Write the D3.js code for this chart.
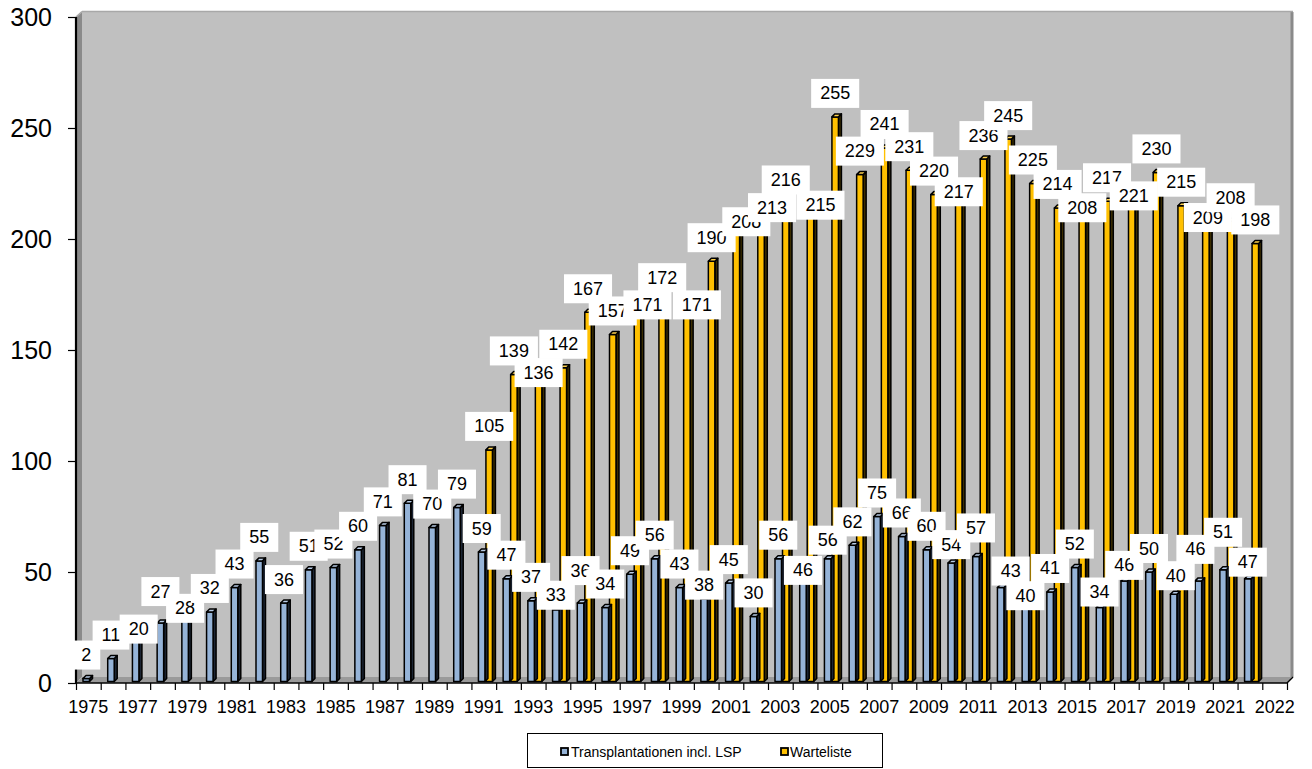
<!DOCTYPE html>
<html>
<head>
<meta charset="utf-8">
<script src="https://cdn.jsdelivr.net/npm/d3@7"></script>
<style>
  html, body { margin: 0; padding: 0; background: #ffffff; }
  svg { display: block; }
  text { font-family: "Liberation Sans", Arial, Helvetica, sans-serif; fill: #000; }
</style>
</head>
<body>
<svg id="chart" width="1312" height="769"></svg>
<script>
// ---------------- data ----------------
const years = [1975,1976,1977,1978,1979,1980,1981,1982,1983,1984,1985,1986,1987,1988,1989,1990,
               1991,1992,1993,1994,1995,1996,1997,1998,1999,2000,2001,2002,2003,2004,2005,2006,
               2007,2008,2009,2010,2011,2012,2013,2014,2015,2016,2017,2018,2019,2020,2021,2022];
const transplantationen = [2,11,20,27,28,32,43,55,36,51,52,60,71,81,70,79,
                           59,47,37,33,36,34,49,56,43,38,45,30,56,46,56,62,
                           75,66,60,54,57,43,40,41,52,34,46,50,40,46,51,47];
const wartelisteYears = [1991,1992,1993,1994,1995,1996,1997,1998,1999,2000,2001,2002,2003,2004,2005,2006,
                         2007,2008,2009,2010,2011,2012,2013,2014,2015,2016,2017,2018,2019,2020,2021,2022];
const warteliste = [105,139,136,142,167,157,171,172,171,190,208,213,216,215,255,229,
                    241,231,220,217,236,245,225,214,208,217,221,230,215,209,208,198];
const tickLabels = ["1975","1977","1979","1981","1983","1985","1987","1989","1991","1993","1995","1997",
                    "1999","2001","2003","2005","2007","2009","2011","2013","2015","2017","2019","2021","2022"];
const yTicks = [0,50,100,150,200,250,300];
const seriesNames = ["Transplantationen incl. LSP", "Warteliste"];

// -------- layout (label placement nudges in px, not data) --------
const nudgeBlue = {1977:[3,14],1978:[0,-8],1979:[0,11],1994:[0,9],1995:[0,-9],2000:[0,10],2004:[0,13],
                   2005:[0,5],2010:[0,5],2011:[0,-5],2012:[10,7],2013:[0,25],2016:[0,8],2017:[0,8],
                   2019:[2,5],2020:[-3,-8],2021:[0,-14],2022:[0,7]};
const nudgeYellow = {1993:[0,15],1997:[10,25],1999:[10,25],2001:[10,24],2002:[11,21],2004:[10,23],
                     2010:[0,14],2015:[0,10],2017:[2,27],2020:[2,22]};

const colors = {
  blue: "#95B3D7", blueTop: "#B8CCE6", blueSide: "#1c2533",
  gold: "#FFC000", goldTop: "#FFD24D", goldSide: "#3b2d00",
  wall: "#C0C0C0", sideWall: "#8a8a8a", floor: "#9a9a9a"
};

const svg = d3.select("#chart");
const nSlots = years.length + 1;
const x = d3.scaleBand().domain(d3.range(nSlots)).range([76, 1287]).paddingInner(0).paddingOuter(0);
const xEdge = d3.scaleLinear().domain([0, nSlots]).range([76, 1287]);
const y = d3.scaleLinear().domain([0, 300]).range([683, 17]);
const depth = 6;

// ---------------- walls ----------------
const walls = svg.append("g");
walls.append("rect").attr("x", 76 + depth).attr("y", 17 - 5).attr("width", 1292 - 82).attr("height", 677 - 12)
  .attr("fill", colors.wall);
walls.append("polygon").attr("points", `76,17 82,12 82,677 76,683`).attr("fill", colors.sideWall);
walls.append("polygon").attr("points", `76,683 82,677 1292,677 1287,683`).attr("fill", colors.floor);
walls.append("line").attr("x1", 1292).attr("x2", 1292).attr("y1", 12).attr("y2", 677)
  .attr("stroke", "#8a8a8a").attr("stroke-width", 3);
walls.append("line").attr("x1", 82).attr("x2", 1293).attr("y1", 11.5).attr("y2", 11.5)
  .attr("stroke", "#a8a8a8").attr("stroke-width", 1.5);
walls.append("line").attr("x1", 76).attr("x2", 82).attr("y1", 17).attr("y2", 11.5)
  .attr("stroke", "#a8a8a8").attr("stroke-width", 1.5);
walls.append("line").attr("x1", 1287).attr("x2", 1293).attr("y1", 683).attr("y2", 677)
  .attr("stroke", "#000").attr("stroke-width", 1.5);

// ---------------- bars ----------------
const fw = 6.5, dd = 3, barBottom = 681.5;
function drawBar(g, x0, top, fill, topFill, sideFill) {
  const b = g.append("g").attr("stroke", "#000").attr("stroke-width", 1.5).attr("stroke-linejoin", "round");
  b.append("polygon")
    .attr("points", `${x0+fw},${top} ${x0+fw+dd},${top-dd} ${x0+fw+dd},${barBottom-dd} ${x0+fw},${barBottom}`)
    .attr("fill", sideFill);
  b.append("rect").attr("x", x0).attr("y", top).attr("width", fw).attr("height", barBottom - top)
    .attr("fill", fill);
  b.append("polygon")
    .attr("points", `${x0},${top} ${x0+dd},${top-dd} ${x0+fw+dd},${top-dd} ${x0+fw},${top}`)
    .attr("fill", topFill);
}
const offBlue = 7, offGold = 14.5;
const barsG = svg.append("g");
wartelisteYears.forEach((yr, i) => {
  const s = years.indexOf(yr);
  drawBar(barsG, x(s) + offGold, y(warteliste[i]), colors.gold, colors.goldTop, colors.goldSide);
});
years.forEach((yr, i) => {
  drawBar(barsG, x(i) + offBlue, y(transplantationen[i]), colors.blue, colors.blueTop, colors.blueSide);
});

// ---------------- axes ----------------
const yAxis = d3.axisLeft(y).tickValues(yTicks).tickSize(8).tickPadding(16);
const gy = svg.append("g").attr("transform", "translate(76,0)").call(yAxis);
gy.select(".domain").remove();
gy.selectAll(".tick line").attr("stroke", "#000").attr("stroke-width", 1.2);
gy.selectAll(".tick text").style("font-size", "25px").style("font-family", "Liberation Sans, Arial, sans-serif");
svg.append("line").attr("x1", 76).attr("x2", 76).attr("y1", 17).attr("y2", 684)
  .attr("stroke", "#000").attr("stroke-width", 2.2);

const xTickAxis = d3.axisBottom(xEdge).tickValues(d3.range(nSlots + 1)).tickFormat("").tickSize(7);
const gxt = svg.append("g").attr("transform", "translate(0,683)").call(xTickAxis);
gxt.select(".domain").remove();
gxt.selectAll(".tick line").attr("stroke", "#000").attr("stroke-width", 1.2);
svg.append("line").attr("x1", 75).attr("x2", 1287).attr("y1", 683).attr("y2", 683)
  .attr("stroke", "#000").attr("stroke-width", 1.6);

const labelSlots = tickLabels.map((d, i) => i * 2);
const xLabAxis = d3.axisBottom(x).tickValues(labelSlots).tickFormat((d, i) => tickLabels[i]).tickSize(0).tickPadding(17);
const gxl = svg.append("g").attr("transform", "translate(0,683)").call(xLabAxis);
gxl.select(".domain").remove();
gxl.selectAll(".tick text").style("font-size", "18px").style("font-family", "Liberation Sans, Arial, sans-serif");

// ---------------- data labels ----------------
const labelsG = svg.append("g");
function drawLabel(cx, cy, value) {
  const g = labelsG.append("g");
  const t = g.append("text").attr("x", cx).attr("y", cy).attr("text-anchor", "middle")
    .attr("dominant-baseline", "central").style("font-size", "18px").text(value);
  const w = t.node().getComputedTextLength() + 18;
  g.insert("rect", "text").attr("x", cx - w / 2).attr("y", cy - 14.5).attr("width", w).attr("height", 29)
    .attr("fill", "#fff");
}
years.forEach((yr, i) => {
  const n = nudgeBlue[yr] || [0, 0];
  drawLabel(x(i) + offBlue + fw / 2 + n[0], y(transplantationen[i]) - 23.5 + n[1], transplantationen[i]);
});
wartelisteYears.forEach((yr, i) => {
  const s = years.indexOf(yr);
  const n = nudgeYellow[yr] || [0, 0];
  drawLabel(x(s) + offGold + fw / 2 + n[0], y(warteliste[i]) - 23.5 + n[1], warteliste[i]);
});

// ---------------- legend ----------------
const lg = svg.append("g");
lg.append("rect").attr("x", 527.5).attr("y", 733.5).attr("width", 355).attr("height", 34)
  .attr("fill", "#fff").attr("stroke", "#000").attr("stroke-width", 1);
const legendItems = [
  {name: seriesNames[0], fill: colors.blue, mx: 561, tx: 571},
  {name: seriesNames[1], fill: colors.gold, mx: 781, tx: 790}
];
legendItems.forEach(d => {
  lg.append("rect").attr("x", d.mx).attr("y", 748).attr("width", 7).attr("height", 7)
    .attr("fill", d.fill).attr("stroke", "#000").attr("stroke-width", 1.8);
  lg.append("text").attr("x", d.tx).attr("y", 757).style("font-size", "14px").text(d.name);
});
</script>
</body>
</html>
